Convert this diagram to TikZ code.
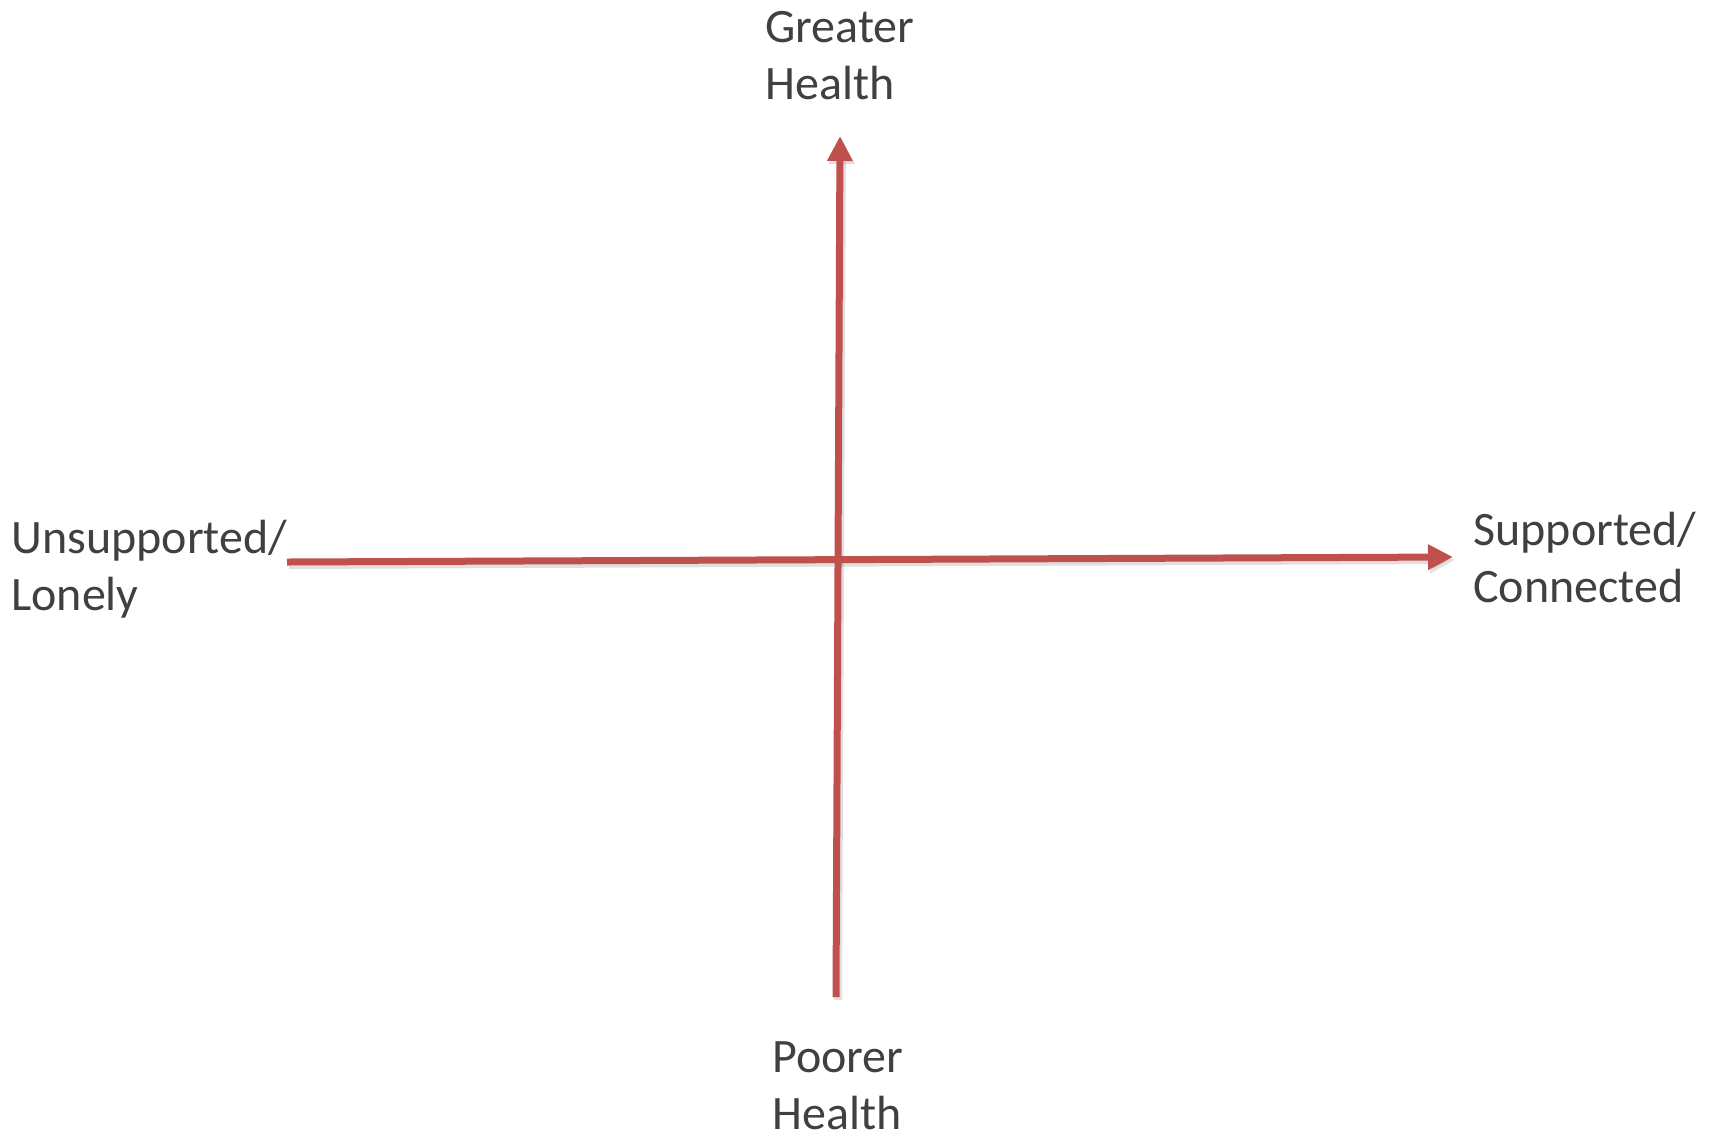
\documentclass[tikz,border=0pt]{standalone}
\usepackage{fontspec}
\setmainfont{Carlito}
\usetikzlibrary{arrows.meta}
\definecolor{axisred}{HTML}{C0504D}
\definecolor{labelgray}{HTML}{404040}
\tikzset{
  axis/.style={draw=axisred, line width=3.5pt, -{Triangle[width=12pt,length=12.5pt]}},
  axisshadow/.style={draw=black, opacity=0.12, line width=4pt, -{Triangle[width=12.5pt,length=12.5pt]}},
  lab/.style={text=labelgray, font=\fontsize{24}{28.5}\selectfont, inner sep=0pt, align=left, anchor=base west}
}
\begin{document}
\begin{tikzpicture}[x=0.5pt, y=-0.5pt]
\useasboundingbox (0,0) rectangle (1714,1137);
% end points
\coordinate (vb) at (836,997);
\coordinate (vt) at (840,136);
\coordinate (hl) at (287,562);
\coordinate (hr) at (1453,557);
\coordinate (vbs) at (838,1000);
\coordinate (vts) at (842,139);
\coordinate (hls) at (289,565);
\coordinate (hrs) at (1455,560);
% shadows
\draw[axisshadow] (vbs) -- (vts);
\draw[axisshadow] (hls) -- (hrs);
% axes
\draw[axis] (vb) -- (vt);
\draw[axis] (hl) -- (hr);
% labels (anchored at the baseline of the last line)
\node[lab] (top) at (765,99) {Greater\\Health};
\node[lab] (left) at (11,610) {Unsupported/\\Lonely};
\node[lab] (right) at (1473,602) {Supported/\\Connected};
\node[lab, text depth=0pt] (bottom) at (772,1129) {Poorer\\Health};
\end{tikzpicture}
\end{document}
